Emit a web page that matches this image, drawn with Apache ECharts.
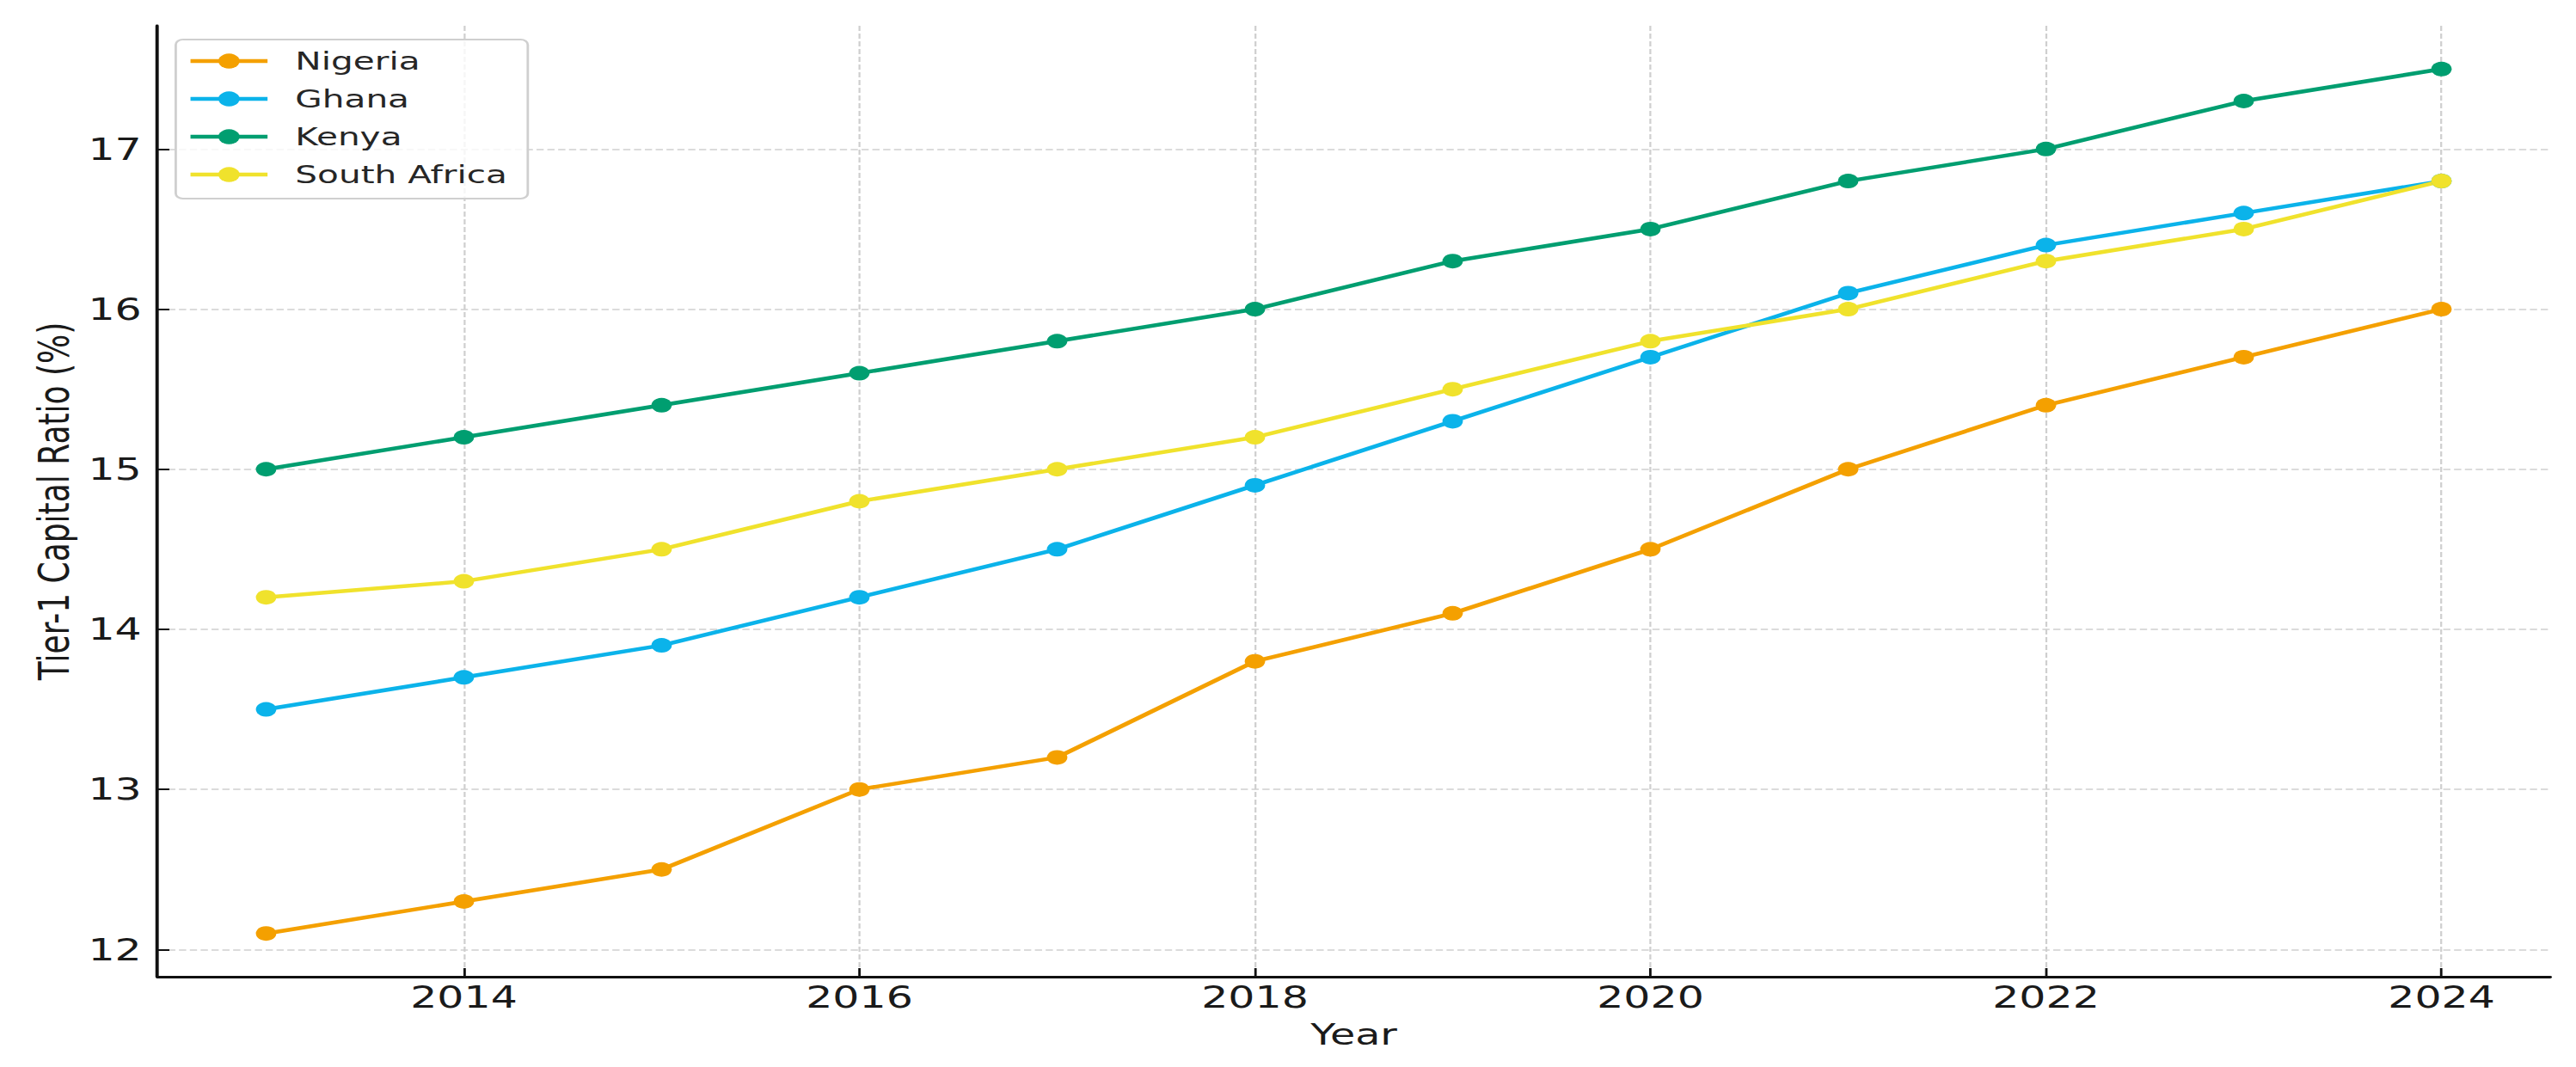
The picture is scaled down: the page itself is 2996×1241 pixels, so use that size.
<!DOCTYPE html>
<html>
<head>
<meta charset="utf-8">
<script src="https://cdn.jsdelivr.net/npm/echarts@6.0.0/dist/echarts.min.js"></script>
<style>
    html, body { margin: 0; padding: 0; background: #fff; overflow: hidden; }
    /* the reference is a chart stretched sideways, so draw narrow and stretch */
    #main { width: 2140px; height: 1241px; transform: scaleX(1.4); transform-origin: 0 0; }
</style>
</head>
<body>
<div id="main"></div>
<script>
// data
var years = [2013, 2014, 2015, 2016, 2017, 2018, 2019, 2020, 2021, 2022, 2023, 2024];
var nigeria = [12.1, 12.3, 12.5, 13.0, 13.2, 13.8, 14.1, 14.5, 15.0, 15.4, 15.7, 16.0];
var ghana = [13.5, 13.7, 13.9, 14.2, 14.5, 14.9, 15.3, 15.7, 16.1, 16.4, 16.6, 16.8];
var kenya = [15.0, 15.2, 15.4, 15.6, 15.8, 16.0, 16.3, 16.5, 16.8, 17.0, 17.3, 17.5];
var southAfrica = [14.2, 14.3, 14.5, 14.8, 15.0, 15.2, 15.5, 15.8, 16.0, 16.3, 16.5, 16.8];
var xTicks = [2014, 2016, 2018, 2020, 2022, 2024];
var yTicks = [12, 13, 14, 15, 16, 17];

var names = ['Nigeria', 'Ghana', 'Kenya', 'South Africa'];
var colors = ['#F4A000', '#0BB3EA', '#009E70', '#F0E22C'];
var values = [nigeria, ghana, kenya, southAfrica];

function pairs(arr) {
    return years.map(function (y, i) { return [y, arr[i]]; });
}

var myChart = echarts.init(document.getElementById('main'), null, { renderer: 'svg' });

var font = 'DejaVu Sans';
var gridLine = { show: true, lineStyle: { color: '#cfcfcf', width: 1.6, type: [6, 3] } };

var option = {
    animation: false,
    backgroundColor: '#fff',
    grid: { left: 130.7, right: 21.4, top: 30, bottom: 105, outerBoundsMode: 'none' },
    legend: {
        orient: 'vertical',
        left: 146,
        top: 46,
        data: names,
        itemWidth: 64,
        itemHeight: 22,
        itemGap: 12,
        padding: [9, 17, 12, 10],
        backgroundColor: 'rgba(255,255,255,0.8)',
        borderColor: '#cfcfcf',
        borderWidth: 2,
        borderRadius: 6,
        lineStyle: { width: 4.5 },
        textStyle: { fontFamily: font, fontSize: 29, color: '#262626', lineHeight: 32, padding: [0, 0, 0, 18] }
    },
    xAxis: {
        type: 'value',
        min: 2012.45,
        max: 2024.55,
        name: 'Year',
        nameLocation: 'middle',
        nameGap: 50,
        nameTextStyle: { fontFamily: font, fontSize: 34, color: '#1a1a1a' },
        axisLine: { show: true, lineStyle: { color: '#111', width: 2.8 } },
        axisTick: { show: true, inside: true, length: 10, lineStyle: { color: '#111', width: 2 }, customValues: xTicks },
        axisLabel: {
            fontFamily: font, fontSize: 35, color: '#1a1a1a', margin: 6, customValues: xTicks,
            formatter: function (v) { return String(v); }
        },
        splitLine: gridLine
    },
    yAxis: {
        type: 'value',
        min: 11.83,
        max: 17.77,
        name: 'Tier-1 Capital Ratio (%)',
        nameLocation: 'middle',
        nameGap: 68,
        nameTextStyle: { fontFamily: font, fontSize: 36, color: '#1a1a1a' },
        axisLine: { show: true, lineStyle: { color: '#111', width: 2.8 } },
        axisTick: { show: true, inside: true, length: 10, lineStyle: { color: '#111', width: 2 }, customValues: yTicks },
        axisLabel: { fontFamily: font, fontSize: 35, color: '#1a1a1a', margin: 13, customValues: yTicks },
        splitLine: gridLine
    },
    series: names.map(function (n, i) {
        return {
            name: n,
            type: 'line',
            data: pairs(values[i]),
            symbol: 'circle',
            symbolSize: 17,
            color: colors[i],
            lineStyle: { width: 4.5, color: colors[i] },
            itemStyle: { color: colors[i] }
        };
    })
};

myChart.setOption(option);
</script>
</body>
</html>
